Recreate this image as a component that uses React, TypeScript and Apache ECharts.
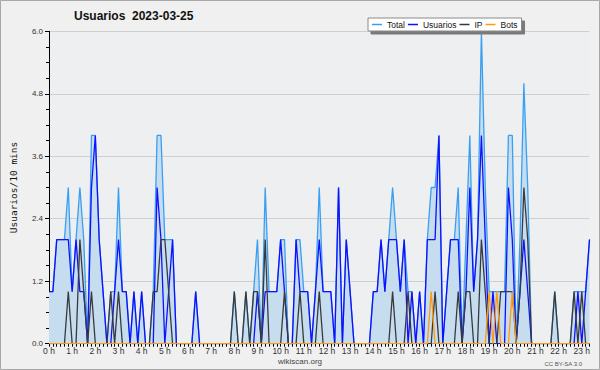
import React, { useEffect, useRef } from 'react';
import * as echarts from 'echarts';

// 10-minute slots, 0:00 .. 23:20 (index i => i*10 minutes)
const total = [
  1, 1, 2, 2, 2, 3, 1, 2, 3, 2,
  0, 4, 4, 2, 1, 0, 1, 1, 3, 1,
  1, 0, 1, 0, 1, 0, 0, 1, 4, 4,
  2, 2, 2, 0, 0, 0, 0, 0, 1, 0,
  0, 0, 0, 0, 0, 0, 0, 0, 1, 0,
  0, 1, 0, 1, 2, 0, 3, 1, 1, 1,
  2, 2, 0, 0, 2, 2, 1, 1, 0, 1,
  3, 1, 1, 1, 0, 3, 0, 2, 1, 0,
  0, 0, 0, 0, 1, 1, 2, 1, 2, 3,
  2, 1, 2, 1, 1, 0, 1, 0, 2, 3,
  3, 4, 0, 1, 2, 2, 3, 0, 2, 4,
  1, 2, 6, 3, 1, 1, 1, 1, 1, 4,
  4, 0, 2, 5, 3, 0, 0, 0, 0, 0,
  0, 1, 0, 0, 0, 0, 1, 1, 1, 1,
  2,
];

const usuarios = [
  1, 1, 2, 2, 2, 2, 1, 2, 1, 1,
  0, 3, 4, 2, 1, 0, 0, 1, 2, 1,
  1, 0, 1, 0, 1, 0, 0, 0, 3, 2,
  0, 1, 2, 0, 0, 0, 0, 0, 1, 0,
  0, 0, 0, 0, 0, 0, 0, 0, 0, 0,
  0, 0, 0, 0, 1, 0, 1, 1, 1, 1,
  2, 1, 0, 0, 2, 1, 1, 1, 0, 1,
  2, 1, 1, 1, 0, 3, 0, 2, 1, 0,
  0, 0, 0, 0, 1, 1, 2, 1, 2, 2,
  2, 1, 2, 0, 1, 0, 1, 0, 2, 2,
  2, 4, 0, 1, 2, 2, 2, 0, 1, 3,
  1, 2, 4, 2, 0, 1, 0, 0, 0, 3,
  2, 0, 1, 2, 1, 0, 0, 0, 0, 0,
  0, 0, 0, 0, 0, 0, 0, 1, 0, 1,
  2,
];

const ip = [
  0, 0, 0, 0, 0, 1, 0, 0, 2, 1,
  0, 1, 0, 0, 0, 0, 1, 0, 1, 0,
  0, 0, 0, 0, 0, 0, 0, 1, 1, 2,
  2, 1, 0, 0, 0, 0, 0, 0, 0, 0,
  0, 0, 0, 0, 0, 0, 0, 0, 1, 0,
  0, 1, 0, 1, 1, 0, 2, 0, 0, 0,
  0, 1, 0, 0, 0, 1, 0, 0, 0, 0,
  1, 0, 0, 0, 0, 0, 0, 0, 0, 0,
  0, 0, 0, 0, 0, 0, 0, 0, 0, 1,
  0, 0, 0, 1, 0, 0, 0, 0, 0, 0,
  1, 0, 0, 0, 0, 0, 1, 0, 1, 1,
  0, 0, 2, 1, 0, 0, 0, 1, 1, 1,
  1, 0, 1, 3, 2, 0, 0, 0, 0, 0,
  0, 1, 0, 0, 0, 0, 1, 0, 1, 0,
  0,
];

const bots = [
  0, 0, 0, 0, 0, 0, 0, 0, 0, 0,
  0, 0, 0, 0, 0, 0, 0, 0, 0, 0,
  0, 0, 0, 0, 0, 0, 0, 0, 0, 0,
  0, 0, 0, 0, 0, 0, 0, 0, 0, 0,
  0, 0, 0, 0, 0, 0, 0, 0, 0, 0,
  0, 0, 0, 0, 0, 0, 0, 0, 0, 0,
  0, 0, 0, 0, 0, 0, 0, 0, 0, 0,
  0, 0, 0, 0, 0, 0, 0, 0, 0, 0,
  0, 0, 0, 0, 0, 0, 0, 0, 0, 0,
  0, 0, 0, 0, 0, 0, 0, 0, 0, 1,
  0, 0, 0, 0, 0, 0, 0, 0, 0, 0,
  0, 0, 0, 0, 1, 0, 1, 0, 0, 0,
  1, 0, 0, 0, 0, 0, 0, 0, 0, 0,
  0, 0, 0, 0, 0, 0, 0, 0, 0, 0,
  0,
];

const hourLabels = [
  '0 h', '1 h', '2 h', '3 h', '4 h', '5 h', '6 h', '7 h', '8 h', '9 h', '10 h', '11 h',
  '12 h', '13 h', '14 h', '15 h', '16 h', '17 h', '18 h', '19 h', '20 h', '21 h', '22 h', '23 h',
];

const seriesNames = ['Total', 'Usuarios', 'IP', 'Bots'];
const seriesColors = ['#3a9ff0', '#1010ff', '#3a3a3a', '#ff9a10'];

const TITLE = 'Usuarios  2023-03-25';
const Y_NAME = 'Usuarios/10 mins';
const FOOTER = 'wikiscan.org';
const LICENSE = 'CC BY-SA 3.0';

const SLOTS_PER_HOUR = 6;
const FONT = '"Liberation Sans Narrow", "Liberation Sans", "DejaVu Sans", sans-serif';

export default function App() {
  const ref = useRef<HTMLDivElement>(null);

  useEffect(() => {
    if (!ref.current) return;
    const chart = echarts.init(ref.current, null, { renderer: 'svg' });
    const toPairs = (arr: number[]) => arr.map((v, i) => [i, v]);
    const lastIndex = total.length - 1;
    const tickValues = total.map((_, i) => i);
    const labelValues = hourLabels.map((_, h) => h * SLOTS_PER_HOUR);

    const mkLine = (idx: number, data: number[], extra: any = {}) => ({
      name: seriesNames[idx],
      type: 'line',
      data: toPairs(data),
      symbol: 'none',
      showSymbol: false,
      color: seriesColors[idx],
      lineStyle: { color: seriesColors[idx], width: 1.3 },
      itemStyle: { color: seriesColors[idx] },
      emphasis: { disabled: true },
      ...extra,
    });

    chart.setOption({
      animation: false,
      backgroundColor: '#f0f0f0',
      textStyle: { fontFamily: FONT },
      grid: {
        left: 46.5,
        right: 10.5,
        top: 31.3,
        bottom: 26.3,
        show: true,
        backgroundColor: '#edeff1',
        borderWidth: 0,
      },
      legend: {
        data: seriesNames,
        orient: 'horizontal',
        left: 368,
        top: 18,
        padding: [2, 4, 2, 4],
        itemGap: 3,
        itemWidth: 10,
        itemHeight: 1.5,
        icon: 'rect',
        backgroundColor: '#ffffff',
        borderColor: '#8a8a8a',
        borderWidth: 1,
        borderRadius: 0,
        shadowColor: '#7a7a7a',
        shadowBlur: 0,
        shadowOffsetX: 3,
        shadowOffsetY: 3,
        textStyle: { fontSize: 8.5, color: '#111', fontFamily: FONT },
      },
      xAxis: {
        type: 'value',
        min: 0,
        max: lastIndex,
        interval: SLOTS_PER_HOUR,
        splitLine: { show: false },
        axisLine: { show: true, onZero: false, lineStyle: { color: '#000', width: 1 } },
        axisTick: {
          show: true,
          length: 3,
          customValues: tickValues,
          lineStyle: { color: '#000', width: 1 },
        },
        axisLabel: {
          customValues: labelValues,
          fontSize: 8.5,
          color: '#333',
          margin: 3,
          fontFamily: FONT,
          formatter: (v: number) => hourLabels[Math.round(v / SLOTS_PER_HOUR)] ?? '',
        },
      },
      yAxis: {
        type: 'value',
        min: 0,
        max: 6,
        interval: 1.2,
        name: Y_NAME,
        nameLocation: 'middle',
        nameRotate: 90,
        nameGap: 31,
        nameTextStyle: { fontFamily: '"DejaVu Sans Mono", monospace', fontSize: 9.5, color: '#111' },
        axisLine: { show: true, lineStyle: { color: '#000', width: 1 } },
        axisTick: { show: true, length: 4, lineStyle: { color: '#000' } },
        minorTick: { show: true, splitNumber: 4, length: 3, lineStyle: { color: '#000' } },
        splitLine: { show: true, lineStyle: { color: '#cfcfcf', width: 1 } },
        axisLabel: {
          fontSize: 8,
          color: '#333',
          margin: 6,
          fontFamily: FONT,
          formatter: (v: number) => v.toFixed(1),
        },
      },
      series: [
        mkLine(0, total, { areaStyle: { color: '#c6ddf0', opacity: 1 }, z: 1 }),
        mkLine(1, usuarios, { z: 3 }),
        mkLine(2, ip, { z: 4 }),
        mkLine(3, bots, { z: 5 }),
      ],
      graphic: [
        {
          type: 'rect',
          shape: { x: 0.5, y: 0.5, width: 599, height: 369 },
          style: { fill: 'none', stroke: '#a8a8a8', lineWidth: 1 },
          silent: true,
          z: 100,
        },
        {
          type: 'text',
          x: 74,
          y: 10,
          style: { text: TITLE, font: `bold 12px ${FONT}`, fill: '#111' },
        },
        {
          type: 'text',
          x: 300,
          y: 357,
          style: { text: FOOTER, font: `8px ${FONT}`, fill: '#444', textAlign: 'center' },
        },
        {
          type: 'text',
          x: 582,
          y: 361,
          style: { text: LICENSE, font: `6px ${FONT}`, fill: '#555', textAlign: 'right' },
        },
      ],
    });

    return () => chart.dispose();
  }, []);

  return (
    <div
      ref={ref}
      style={{ position: 'fixed', left: 0, top: 0, width: 600, height: 370 }}
    />
  );
}
